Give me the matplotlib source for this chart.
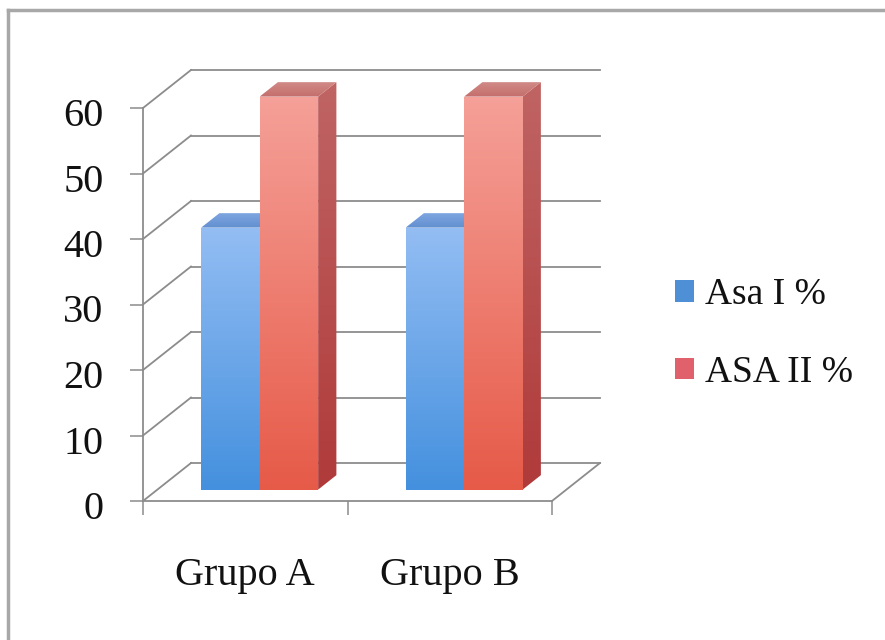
import numpy as np
import matplotlib
matplotlib.use('Agg')
import matplotlib.pyplot as plt
from matplotlib.patches import Polygon, Patch
from matplotlib.lines import Line2D
from matplotlib.colors import LinearSegmentedColormap
from matplotlib.transforms import ScaledTranslation

# ---------------- data ----------------
categories = ['Grupo A', 'Grupo B']
series_names = ['Asa I %', 'ASA II %']
asa1 = [40, 40]
asa2 = [60, 60]
yticks = [0, 10, 20, 30, 40, 50, 60]

# ---------------- figure ----------------
W, H = 885, 640
fig = plt.figure(figsize=(W / 100, H / 100), dpi=100)
fig.patch.set_facecolor('white')
FONT = 'Liberation Serif'

# front plane of the 3D box
fx0, fx1 = 143, 552
fy0, fy1 = 501, 108
ax = fig.add_axes([fx0 / W, 1 - fy0 / H, (fx1 - fx0) / W, (fy0 - fy1) / H])
ax.patch.set_alpha(0)
XMAX, YMAX = len(categories), 60
ax.set_xlim(0, XMAX)
ax.set_ylim(0, YMAX)

# oblique depth offsets (data units for depth = 1)
DX = 48 / ((fx1 - fx0) / XMAX)
DY = 38 / ((fy0 - fy1) / YMAX)


def proj(x, y, d):
    return x + d * DX, y + d * DY


grid_c = '#8c8c8c'
glw = 1.3

# gridlines: side wall diagonals and back wall
for v in yticks:
    a, b = proj(0, v, 0), proj(0, v, 1)
    ax.plot([a[0], b[0]], [a[1], b[1]], color=grid_c, lw=glw, clip_on=False, zorder=1)
    a, b = proj(0, v, 1), proj(XMAX, v, 1)
    ax.plot([a[0], b[0]], [a[1], b[1]], color=grid_c, lw=glw, clip_on=False, zorder=1)
# floor right edge
a, b = proj(XMAX, 0, 0), proj(XMAX, 0, 1)
ax.plot([a[0], b[0]], [a[1], b[1]], color=grid_c, lw=glw, clip_on=False, zorder=1)


def grad_face(pts, c_top, c_bot, zorder):
    pts = np.array(pts, dtype=float)
    poly = Polygon(pts, closed=True, facecolor='none', edgecolor='none',
                   transform=ax.transData, clip_on=False)
    ax.add_patch(poly)
    xmin, ymin = pts.min(0)
    xmax, ymax = pts.max(0)
    cmap = LinearSegmentedColormap.from_list('g', [c_bot, c_top])
    grad = np.linspace(0, 1, 256).reshape(-1, 1)
    im = ax.imshow(grad, cmap=cmap, extent=(xmin, xmax, ymin, ymax), origin='lower',
                   aspect='auto', zorder=zorder, interpolation='bilinear')
    im.set_clip_box(fig.bbox)
    im.set_clip_path(poly)


bw = 0.286
d0, d1 = 0.30, 0.68
styles = [
    dict(ft='#93bdf3', fb='#4490de', st='#5a86c8', sb='#3a6fb8', tt='#7ea6e0', tb='#628fd0'),
    dict(ft='#f5a098', fb='#e65a48', st='#c06464', sb='#b03a3a', tt='#d08a86', tb='#c46e6c'),
]
series = [asa1, asa2]
z = 3
for i in range(len(categories)):
    for s, vals in enumerate(series):
        h = vals[i]
        x0 = i + 0.5 - bw + s * bw
        x1 = x0 + bw
        st = styles[s]
        side = [proj(x1, 0, d0), proj(x1, 0, d1), proj(x1, h, d1), proj(x1, h, d0)]
        top = [proj(x0, h, d0), proj(x1, h, d0), proj(x1, h, d1), proj(x0, h, d1)]
        front = [proj(x0, 0, d0), proj(x1, 0, d0), proj(x1, h, d0), proj(x0, h, d0)]
        grad_face(side, st['st'], st['sb'], z); z += 1
        grad_face(top, st['tt'], st['tb'], z); z += 1
        grad_face(front, st['ft'], st['fb'], z); z += 1

ax.set_xlim(0, XMAX)
ax.set_ylim(0, YMAX)

# spines and ticks
for sp in ['top', 'right']:
    ax.spines[sp].set_visible(False)
for sp in ['left', 'bottom']:
    ax.spines[sp].set_color(grid_c)
    ax.spines[sp].set_linewidth(glw)
    ax.spines[sp].set_zorder(50)

ax.set_yticks(yticks)
ax.set_yticklabels([str(v) for v in yticks], fontfamily=FONT)
ax.tick_params(axis='y', direction='out', length=9.5, width=1.1, color=grid_c,
               pad=19, labelsize=29, labelcolor='#111111')
shift = ScaledTranslation(0, -4 / 100, fig.dpi_scale_trans)
for lab in ax.get_yticklabels():
    lab.set_transform(lab.get_transform() + shift)
ax.set_xticks(list(range(XMAX + 1)))
ax.set_xticklabels([])
ax.tick_params(axis='x', which='major', direction='out', length=10, width=1.1, color=grid_c)
ax.set_xticks([i + 0.5 for i in range(XMAX)], minor=True)
ax.set_xticklabels(categories, minor=True, fontfamily=FONT)
ax.tick_params(axis='x', which='minor', length=0, pad=40, labelsize=29, labelcolor='#111111')

# legend
handles = [Patch(facecolor='#4f8fd6', edgecolor='none'),
           Patch(facecolor='#e0606c', edgecolor='none')]
leg = fig.legend(handles, series_names, loc='center left',
                 bbox_to_anchor=(675 / W, 1 - 334 / H), frameon=False,
                 prop={'family': FONT, 'size': 27}, handlelength=0.5, handleheight=0.5,
                 handletextpad=0.3, labelspacing=1.15, borderpad=0, borderaxespad=0)
for t in leg.get_texts():
    t.set_color('#111111')

# outer frame (top and left edges)
fig.add_artist(Line2D([8 / W, 1], [1 - 10 / H, 1 - 10 / H], transform=fig.transFigure,
                      color='#a8a8a8', lw=2.5))
fig.add_artist(Line2D([8 / W, 8 / W], [0, 1 - 10 / H], transform=fig.transFigure,
                      color='#a8a8a8', lw=2.5))

fig.savefig('out.png', dpi=100, facecolor='white')
